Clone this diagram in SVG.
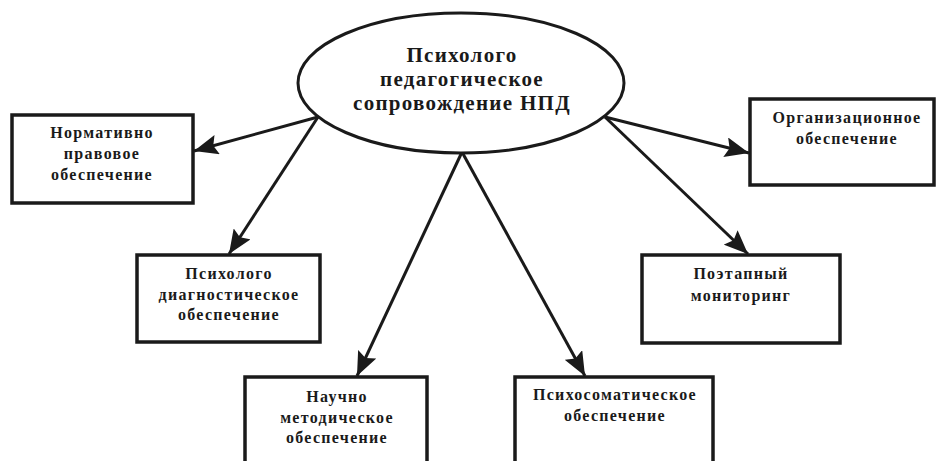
<svg xmlns="http://www.w3.org/2000/svg" width="936" height="461" viewBox="0 0 936 461">
<defs>
<marker id="arr" markerUnits="userSpaceOnUse" markerWidth="26" markerHeight="20" refX="24" refY="10" orient="auto">
<path d="M0,0 L24,10 L0,20 L4,10 Z" fill="#1a1a1a"/>
</marker>
<style>
.box{fill:#fff;stroke:#1a1a1a;stroke-width:3.5}
.ell{fill:#fff;stroke:#1a1a1a;stroke-width:3}
.t{font-family:"Liberation Serif","Times New Roman",serif;font-weight:bold;font-size:16px;letter-spacing:1.3px;fill:#1a1a1a;text-anchor:middle}
.tt{font-family:"Liberation Serif","Times New Roman",serif;font-weight:bold;font-size:21px;letter-spacing:1.3px;fill:#1a1a1a;text-anchor:middle}
.c{stroke:#1a1a1a;stroke-width:3;fill:none;marker-end:url(#arr)}
</style>
</defs>
<rect width="936" height="461" fill="#fff"/>
<g id="connectors">
<line class="c" x1="318" y1="117" x2="194" y2="151"/>
<line class="c" x1="318" y1="117" x2="229" y2="254"/>
<line class="c" x1="462" y1="152" x2="357" y2="376"/>
<line class="c" x1="462" y1="152" x2="585" y2="376"/>
<line class="c" x1="605" y1="117" x2="749" y2="153"/>
<line class="c" x1="605" y1="117" x2="748" y2="254"/>
</g>
<g id="center">
<ellipse class="ell" cx="461" cy="83" rx="163" ry="70"/>
<text class="tt" x="462" y="62">Психолого</text>
<text class="tt" x="462" y="86">педагогическое</text>
<text class="tt" x="462" y="110">сопровождение НПД</text>
</g>
<g id="normativno">
<rect class="box" x="12" y="115" width="181" height="88"/>
<text class="t" x="102" y="138">Нормативно</text>
<text class="t" x="102" y="159">правовое</text>
<text class="t" x="102" y="180">обеспечение</text>
</g>
<g id="organiz">
<rect class="box" x="750" y="99" width="184" height="86"/>
<text class="t" x="847" y="123">Организационное</text>
<text class="t" x="847" y="144">обеспечение</text>
</g>
<g id="diagn">
<rect class="box" x="137" y="255" width="183" height="87"/>
<text class="t" x="229" y="279">Психолого</text>
<text class="t" x="229" y="300">диагностическое</text>
<text class="t" x="229" y="320">обеспечение</text>
</g>
<g id="monitoring">
<rect class="box" x="642" y="255" width="198" height="88"/>
<text class="t" x="741" y="279">Поэтапный</text>
<text class="t" x="741" y="301">мониторинг</text>
</g>
<g id="nauchno">
<rect class="box" x="245" y="377" width="182" height="100"/>
<text class="t" x="337" y="402">Научно</text>
<text class="t" x="337" y="423">методическое</text>
<text class="t" x="337" y="443">обеспечение</text>
</g>
<g id="psychosom">
<rect class="box" x="515" y="377" width="198" height="100"/>
<text class="t" x="615" y="400">Психосоматическое</text>
<text class="t" x="615" y="421">обеспечение</text>
</g>
</svg>
